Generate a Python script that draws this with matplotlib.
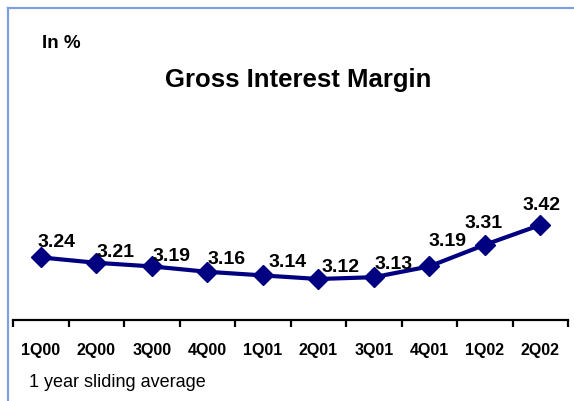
import matplotlib
matplotlib.use("Agg")
import matplotlib.pyplot as plt
from matplotlib.lines import Line2D

plt.rcParams['font.family'] = ['Liberation Sans', 'DejaVu Sans']

categories = ["1Q00", "2Q00", "3Q00", "4Q00", "1Q01", "2Q01", "3Q01", "4Q01", "1Q02", "2Q02"]
values = [3.24, 3.21, 3.19, 3.16, 3.14, 3.12, 3.13, 3.19, 3.31, 3.42]
labels = ["3.24", "3.21", "3.19", "3.16", "3.14", "3.12", "3.13", "3.19", "3.31", "3.42"]
# label offsets in pixels (dx, dy) relative to the marker
label_dx = [16, 19, 20, 19, 25, 22, 20, 18, -1, 1]
label_dy = [16, 11, 11, 13, 14, 12, 14, 26, 22, 20]

W, H = 574, 402
fig = plt.figure(figsize=(W / 100, H / 100), dpi=100)
fig.patch.set_facecolor('white')

# axes placement (pixel based)
left_px, right_px = 13, 568
bottom_px, top_px = 321.4, 211.6
ax = fig.add_axes([left_px / W, 1 - bottom_px / H, (right_px - left_px) / W, (bottom_px - top_px) / H])
ax.set_facecolor('none')

x = list(range(len(categories)))
navy = '#000080'
ax.plot(x, values, color=navy, lw=3, marker='D', ms=10.5, mfc=navy, mec=navy, mew=1, clip_on=False, zorder=3)

for xi, v, lab, dx, dy in zip(x, values, labels, label_dx, label_dy):
    ax.annotate(lab, (xi, v), xytext=(dx, dy), textcoords='offset pixels',
                ha='center', va='center', fontsize=14, fontweight='bold', color='black', zorder=4)

ax.set_xlim(-0.5, len(categories) - 0.5)
ax.set_ylim(2.89, 3.5)
for s in ['top', 'right', 'left']:
    ax.spines[s].set_visible(False)
ax.spines['bottom'].set_color('black')
ax.spines['bottom'].set_linewidth(1.6)
ax.set_yticks([])
ax.set_xticks([i - 0.5 for i in range(len(categories) + 1)])
ax.set_xticklabels([])
ax.tick_params(axis='x', direction='out', length=5, width=1.6, color='black')
ax.set_xticks(x, minor=True)
ax.set_xticklabels(categories, minor=True, fontsize=11.5, fontweight='bold')
ax.tick_params(axis='x', which='minor', length=0, pad=15.5)

# texts
fig.text(298 / W, 1 - 87 / H, "Gross Interest Margin", ha='center', va='baseline',
         fontsize=18.5, fontweight='bold')
fig.text(42 / W, 1 - 43 / H, "In %", ha='left', va='center', fontsize=13.5, fontweight='bold')
fig.text(29 / W, 1 - 383 / H, "1 year sliding average", ha='left', va='center', fontsize=13)

# frame lines (top and left only)
border = '#7f9fdf'
fig.add_artist(Line2D([8 / W, 1], [1 - 9 / H, 1 - 9 / H], transform=fig.transFigure, color=border, lw=1.6))
fig.add_artist(Line2D([8 / W, 8 / W], [0, 1 - 9 / H], transform=fig.transFigure, color=border, lw=1.6))

fig.savefig("out.png", dpi=100)
